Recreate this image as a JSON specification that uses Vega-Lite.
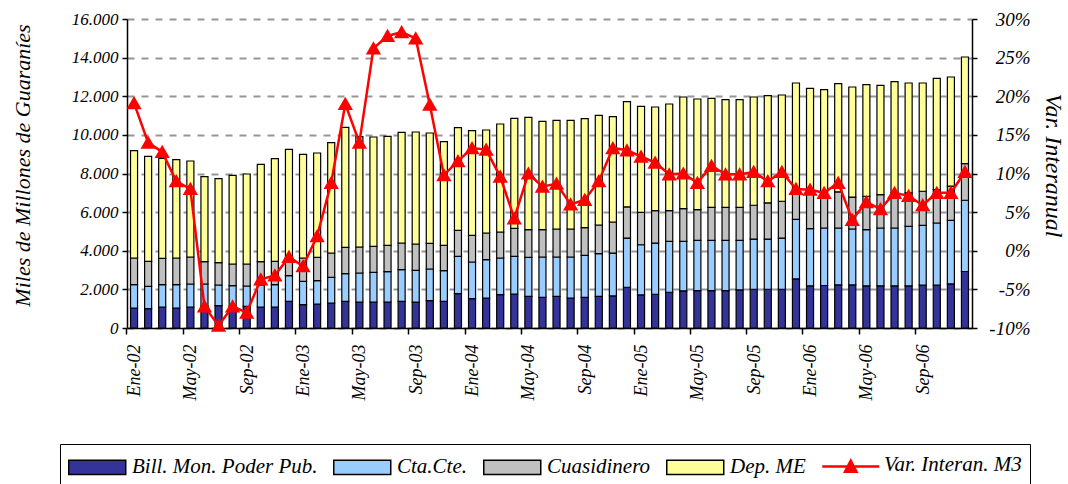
{
  "$schema": "https://vega.github.io/schema/vega-lite/v6.json",
  "width": 845,
  "height": 309,
  "autosize": {"type": "none"},
  "padding": {"left": 127, "top": 19, "right": 96, "bottom": 156},
  "background": "white",
  "config": {
    "view": {"stroke": null},
    "locale": {"number": {"decimal": ",", "thousands": ".", "grouping": [3], "currency": ["", ""]}},
    "axis": {"labelFont": "Liberation Serif", "labelFontStyle": "italic", "labelColor": "black", "titleFont": "Liberation Serif", "titleFontStyle": "italic", "titleFontWeight": "normal", "titleColor": "black", "domainColor": "black", "tickColor": "black", "domainWidth": 1.5, "tickWidth": 1.5},
    "legend": {"labelFont": "Liberation Serif", "labelFontStyle": "italic", "labelFontSize": 21, "labelColor": "black", "labelLimit": 400, "titleFont": "Liberation Serif", "titleFontStyle": "italic", "titleFontWeight": "normal", "titleFontSize": 21, "titleColor": "black", "titleLimit": 400}
  },
  "data": {"values": [
    {"mes":"Ene-02","billetes":1035,"ctacte":1209,"cuasi":1380,"depme":5556,"var":19.1},
    {"mes":"Feb-02","billetes":1000,"ctacte":1160,"cuasi":1290,"depme":5440,"var":14.0},
    {"mes":"Mar-02","billetes":1087,"ctacte":1157,"cuasi":1363,"depme":5178,"var":12.8},
    {"mes":"Abr-02","billetes":1035,"ctacte":1209,"cuasi":1380,"depme":5092,"var":9.0},
    {"mes":"May-02","billetes":1087,"ctacte":1191,"cuasi":1398,"depme":4971,"var":8.0},
    {"mes":"Jun-02","billetes":1120,"ctacte":1158,"cuasi":1157,"depme":4401,"var":-7.2},
    {"mes":"Jul-02","billetes":1156,"ctacte":1070,"cuasi":1157,"depme":4349,"var":-9.7},
    {"mes":"Ago-02","billetes":1120,"ctacte":1072,"cuasi":1122,"depme":4591,"var":-7.2},
    {"mes":"Sep-02","billetes":1120,"ctacte":1055,"cuasi":1139,"depme":4660,"var":-8.0},
    {"mes":"Oct-02","billetes":1087,"ctacte":1139,"cuasi":1209,"depme":5039,"var":-3.7},
    {"mes":"Nov-02","billetes":1087,"ctacte":1157,"cuasi":1206,"depme":5318,"var":-3.2},
    {"mes":"Dic-02","billetes":1381,"ctacte":1329,"cuasi":914,"depme":5627,"var":-0.8},
    {"mes":"Ene-03","billetes":1208,"ctacte":1208,"cuasi":1208,"depme":5368,"var":-2.0},
    {"mes":"Feb-03","billetes":1243,"ctacte":1208,"cuasi":1208,"depme":5402,"var":1.9},
    {"mes":"Mar-03","billetes":1294,"ctacte":1329,"cuasi":1260,"depme":5713,"var":8.8},
    {"mes":"Abr-03","billetes":1381,"ctacte":1432,"cuasi":1364,"depme":6213,"var":19.0},
    {"mes":"May-03","billetes":1346,"ctacte":1502,"cuasi":1346,"depme":5713,"var":14.0},
    {"mes":"Jun-03","billetes":1346,"ctacte":1536,"cuasi":1347,"depme":5661,"var":26.2},
    {"mes":"Jul-03","billetes":1346,"ctacte":1571,"cuasi":1363,"depme":5644,"var":27.8},
    {"mes":"Ago-03","billetes":1381,"ctacte":1639,"cuasi":1381,"depme":5730,"var":28.3},
    {"mes":"Sep-03","billetes":1346,"ctacte":1640,"cuasi":1363,"depme":5799,"var":27.5},
    {"mes":"Oct-03","billetes":1415,"ctacte":1640,"cuasi":1329,"depme":5713,"var":18.9},
    {"mes":"Nov-03","billetes":1381,"ctacte":1588,"cuasi":1311,"depme":5368,"var":9.8},
    {"mes":"Dic-03","billetes":1778,"ctacte":1933,"cuasi":1346,"depme":5316,"var":11.6},
    {"mes":"Ene-04","billetes":1519,"ctacte":1898,"cuasi":1381,"depme":5420,"var":13.3},
    {"mes":"Feb-04","billetes":1553,"ctacte":1985,"cuasi":1381,"depme":5333,"var":13.1},
    {"mes":"Mar-04","billetes":1726,"ctacte":1898,"cuasi":1347,"depme":5592,"var":9.6},
    {"mes":"Abr-04","billetes":1760,"ctacte":1951,"cuasi":1449,"depme":5696,"var":4.2},
    {"mes":"May-04","billetes":1640,"ctacte":2019,"cuasi":1432,"depme":5817,"var":10.0},
    {"mes":"Jun-04","billetes":1588,"ctacte":2088,"cuasi":1415,"depme":5610,"var":8.3},
    {"mes":"Jul-04","billetes":1640,"ctacte":2036,"cuasi":1450,"depme":5626,"var":8.7},
    {"mes":"Ago-04","billetes":1553,"ctacte":2123,"cuasi":1450,"depme":5626,"var":6.0},
    {"mes":"Sep-04","billetes":1588,"ctacte":2175,"cuasi":1432,"depme":5644,"var":6.6},
    {"mes":"Oct-04","billetes":1640,"ctacte":2209,"cuasi":1484,"depme":5678,"var":9.0},
    {"mes":"Nov-04","billetes":1661,"ctacte":2218,"cuasi":1610,"depme":5453,"var":13.3},
    {"mes":"Dic-04","billetes":2111,"ctacte":2546,"cuasi":1611,"depme":5451,"var":13.0},
    {"mes":"Ene-05","billetes":1713,"ctacte":2598,"cuasi":1680,"depme":5486,"var":12.2},
    {"mes":"Feb-05","billetes":1748,"ctacte":2649,"cuasi":1680,"depme":5366,"var":11.4},
    {"mes":"Mar-05","billetes":1850,"ctacte":2634,"cuasi":1593,"depme":5521,"var":9.9},
    {"mes":"Abr-05","billetes":1921,"ctacte":2563,"cuasi":1697,"depme":5779,"var":10.0},
    {"mes":"May-05","billetes":1938,"ctacte":2598,"cuasi":1593,"depme":5728,"var":8.8},
    {"mes":"Jun-05","billetes":1938,"ctacte":2598,"cuasi":1715,"depme":5640,"var":11.0},
    {"mes":"Jul-05","billetes":1938,"ctacte":2598,"cuasi":1715,"depme":5571,"var":9.9},
    {"mes":"Ago-05","billetes":1970,"ctacte":2566,"cuasi":1715,"depme":5571,"var":9.9},
    {"mes":"Sep-05","billetes":2007,"ctacte":2599,"cuasi":1749,"depme":5605,"var":10.2},
    {"mes":"Oct-05","billetes":2007,"ctacte":2599,"cuasi":1870,"depme":5554,"var":9.0},
    {"mes":"Nov-05","billetes":2007,"ctacte":2650,"cuasi":1905,"depme":5502,"var":10.2},
    {"mes":"Dic-05","billetes":2540,"ctacte":3080,"cuasi":1410,"depme":5656,"var":8.0},
    {"mes":"Ene-06","billetes":2180,"ctacte":2962,"cuasi":1778,"depme":5489,"var":7.9},
    {"mes":"Feb-06","billetes":2200,"ctacte":2977,"cuasi":1723,"depme":5440,"var":7.5},
    {"mes":"Mar-06","billetes":2232,"ctacte":2945,"cuasi":1873,"depme":5601,"var":8.8},
    {"mes":"Abr-06","billetes":2232,"ctacte":2893,"cuasi":1655,"depme":5698,"var":4.0},
    {"mes":"May-06","billetes":2180,"ctacte":2910,"cuasi":1732,"depme":5777,"var":6.3},
    {"mes":"Jun-06","billetes":2180,"ctacte":2997,"cuasi":1732,"depme":5656,"var":5.4},
    {"mes":"Jul-06","billetes":2180,"ctacte":2997,"cuasi":1818,"depme":5759,"var":7.5},
    {"mes":"Ago-06","billetes":2180,"ctacte":3083,"cuasi":1732,"depme":5691,"var":7.1},
    {"mes":"Sep-06","billetes":2215,"ctacte":3100,"cuasi":1767,"depme":5604,"var":5.9},
    {"mes":"Oct-06","billetes":2215,"ctacte":3222,"cuasi":1732,"depme":5758,"var":7.5},
    {"mes":"Nov-06","billetes":2284,"ctacte":3291,"cuasi":1767,"depme":5654,"var":7.5},
    {"mes":"Dic-06","billetes":2925,"ctacte":3689,"cuasi":1895,"depme":5523,"var":10.2}
  ]},
  "encoding": {
    "x": {
      "field": "mes", "type": "nominal", "sort": null,
      "scale": {"paddingInner": 0.5, "paddingOuter": 0.25},
      "axis": {
        "title": null,
        "values": ["Ene-02","May-02","Sep-02","Ene-03","May-03","Sep-03","Ene-04","May-04","Sep-04","Ene-05","May-05","Sep-05","Ene-06","May-06","Sep-06"],
        "bandPosition": -0.5,
        "labelAngle": -90, "labelFontSize": 18, "labelOffset": 1, "labelPadding": 10,
        "tickSize": 6, "grid": false
      }
    }
  },
  "layer": [
    {
      "transform": [{"fold": ["billetes", "ctacte", "cuasi", "depme"], "as": ["serie", "valor"]}],
      "mark": {"type": "bar", "stroke": "black", "strokeWidth": 1.2},
      "encoding": {
        "y": {
          "field": "valor", "type": "quantitative", "stack": "zero",
          "scale": {"domain": [0, 16000], "nice": false},
          "axis": {
            "title": "Miles de Millones de Guaraníes", "titleFontSize": 22,
            "titleX": -105, "titleY": 146, "titleAngle": -90, "titleAlign": "center", "titleBaseline": "middle",
            "values": [0,2000,4000,6000,8000,10000,12000,14000,16000],
            "format": ",.0f", "labelFontSize": 17, "labelPadding": 4, "tickSize": 5,
            "grid": true, "gridColor": "#969696", "gridDash": [7, 7], "gridWidth": 2
          }
        },
        "color": {
          "field": "serie", "type": "nominal",
          "scale": {"domain": ["billetes", "ctacte", "cuasi", "depme"], "range": ["#333399", "#99CCFF", "#C0C0C0", "#FFFF99"]},
          "legend": {
            "orient": "none", "legendX": -67, "legendY": 425, "direction": "horizontal",
            "title": "Var. Interan. M3", "titleOrient": "right", "titlePadding": 78, "titleAnchor": "middle", "titleBaseline": "middle",
            "labelOffset": 34, "columnPadding": 12, "padding": 8, "strokeColor": "black", "fillColor": "white",
            "symbolType": "M-1,-0.5H3V0.5H-1Z", "symbolSize": 812, "symbolStrokeWidth": 1.5, "symbolStrokeColor": "black",
            "labelExpr": "datum.label === 'billetes' ? 'Bill. Mon. Poder Pub.' : datum.label === 'ctacte' ? 'Cta.Cte.' : datum.label === 'cuasi' ? 'Cuasidinero' : 'Dep. ME'"
          }
        },
        "order": {"field": "serie", "sort": "ascending"}
      }
    },
    {
      "encoding": {
        "y": {
          "field": "var", "type": "quantitative",
          "scale": {"domain": [-10, 30], "nice": false},
          "axis": {
            "orient": "right", "title": "Var. Interanual", "titleFontSize": 24,
            "titleX": 80, "titleY": 146, "titleAngle": 90, "titleAlign": "center", "titleBaseline": "middle",
            "values": [-10,-5,0,5,10,15,20,25,30],
            "labelExpr": "datum.value + '%'", "labelFontSize": 19, "labelAlign": "right", "labelPadding": 53, "tickSize": 5,
            "grid": false
          }
        },
        "stroke": {
          "datum": "var",
          "scale": {"domain": ["var"], "range": ["#FF0000"]},
          "legend": {
            "orient": "none", "legendX": 694, "legendY": 432, "title": null, "padding": 0,
            "labelExpr": "''", "labelOffset": 0,
            "symbolType": "M-1,0H3M0.6,0.36L1,-0.4L1.4,0.36Z", "symbolSize": 812, "symbolStrokeWidth": 2.5, "symbolFillColor": "#FF0000", "symbolStrokeColor": "#FF0000"
          }
        }
      },
      "layer": [
        {"mark": {"type": "line", "strokeWidth": 2.5}},
        {"mark": {"type": "point", "shape": "triangle-up", "filled": true, "fill": "#FF0000", "size": 140, "opacity": 1}}
      ]
    }
  ],
  "resolve": {"scale": {"y": "independent"}}
}
